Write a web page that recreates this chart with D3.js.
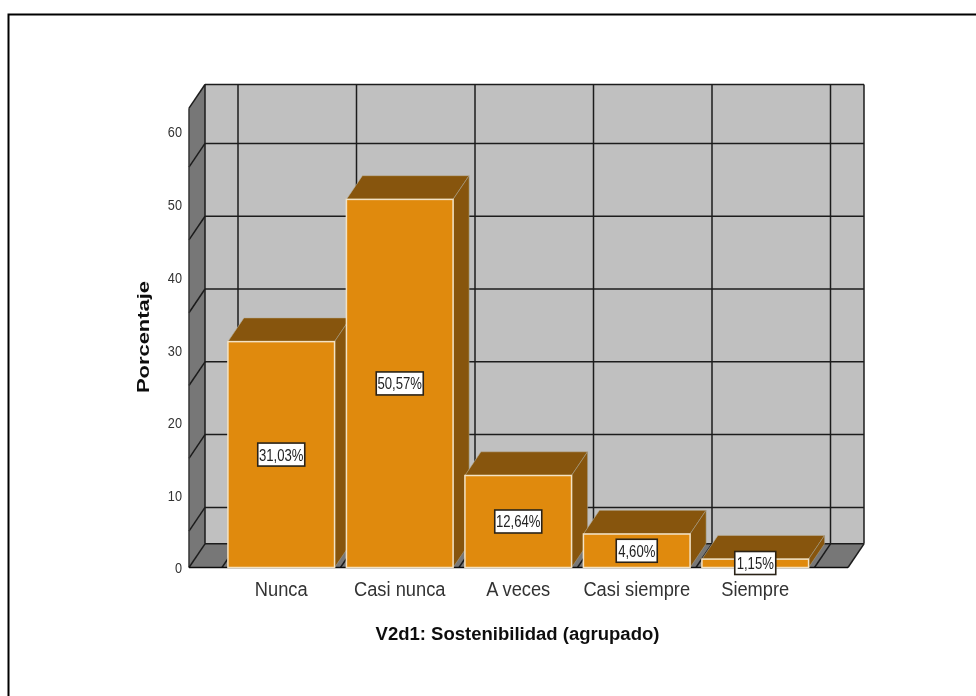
<!DOCTYPE html>
<html><head><meta charset="utf-8">
<script src="https://cdn.jsdelivr.net/npm/d3@7/dist/d3.min.js"></script>
<style>html,body{margin:0;padding:0;background:#fff}svg{display:block}text{font-family:"Liberation Sans",Arial,sans-serif}</style>
</head><body><svg id="c" width="976" height="696"></svg>
<script>
const categories=["Nunca","Casi nunca","A veces","Casi siempre","Siempre"];
const values=[31.03,50.57,12.64,4.60,1.15];
const valueLabels=["31,03%","50,57%","12,64%","4,60%","1,15%"];
const yTicks=[0,10,20,30,40,50,60];
const gridValues=[5,15,25,35,45,55];
const yMax=63.1;
const W=976,H=696,dx=16,dy=23.7;
const root=d3.select("#c");
root.append("defs").append("filter").attr("id","soft")
  .attr("filterUnits","userSpaceOnUse").attr("x",0).attr("y",0).attr("width",W).attr("height",H)
  .append("feGaussianBlur").attr("stdDeviation",0.4);
const svg=root.append("g").attr("filter","url(#soft)");
svg.append("rect").attr("width",W).attr("height",H).attr("fill","#fff");
const x=d3.scaleBand().domain(categories).range([222,814.5]).paddingInner(0.1).paddingOuter(0.05);
const y=d3.scaleLinear().domain([0,63]).range([567.5,108.9]);
const xL=189,xR=848;
const dark="#1c1c1c";
const poly=(p,f,s,sw)=>svg.append("polygon").attr("points",p.map(d=>d.join(",")).join(" ")).attr("fill",f).attr("stroke",s||"none").attr("stroke-width",sw||0);
const line=(a,b,c,w)=>svg.append("line").attr("x1",a[0]).attr("y1",a[1]).attr("x2",b[0]).attr("y2",b[1]).attr("stroke",c||dark).attr("stroke-width",w||1.5);
svg.append("path").attr("d",`M8.5,${H} V14.5 H${W}`).attr("fill","none").attr("stroke","#000").attr("stroke-width",2);
// walls
poly([[xL+dx,y(yMax)-dy],[xR+dx,y(yMax)-dy],[xR+dx,y(0)-dy],[xL+dx,y(0)-dy]],"#c0c0c0");
poly([[xL,y(yMax)],[xL+dx,y(yMax)-dy],[xL+dx,y(0)-dy],[xL,y(0)]],"#777777");
poly([[xL,y(0)],[xR,y(0)],[xR+dx,y(0)-dy],[xL+dx,y(0)-dy]],"#777777");
// gridlines
gridValues.forEach(v=>{line([xL,y(v)],[xL+dx,y(v)-dy]);line([xL+dx,y(v)-dy],[xR+dx,y(v)-dy]);});
const gap=x.step()*x.paddingInner()/2;
const bandEdges=categories.map(c=>x(c)-gap).concat([x(categories[4])+x.bandwidth()+gap]);
bandEdges.forEach(e=>{line([e+dx,y(yMax)-dy],[e+dx,y(0)-dy]);line([e+dx,y(0)-dy],[e,y(0)]);});
// frame edges
line([xL+dx,y(yMax)-dy],[xR+dx,y(yMax)-dy]);
line([xR+dx,y(yMax)-dy],[xR+dx,y(0)-dy]);
line([xL+dx,y(yMax)-dy],[xL+dx,y(0)-dy]);
line([xL,y(yMax)],[xL+dx,y(yMax)-dy]);
line([xL,y(yMax)],[xL,y(0)],"#333");
line([xL+dx,y(0)-dy],[xR+dx,y(0)-dy]);
line([xL,y(0)],[xL+dx,y(0)-dy]);
line([xR,y(0)],[xR+dx,y(0)-dy]);
line([xL,y(0)],[xR,y(0)],"#111",1.6);
// bars
categories.forEach((c,i)=>{
 const x0=x(c),w=x.bandwidth(),yt=y(values[i]),yb=y(0);
 poly([[x0,yt],[x0+w,yt],[x0+w+dx,yt-dy],[x0+dx,yt-dy]],"#875507","#b9b0a0",0.6);
 poly([[x0+w,yt],[x0+w+dx,yt-dy],[x0+w+dx,yb-dy],[x0+w,yb]],"#875507","#a39a8a",0.6);
 svg.append("rect").attr("x",x0).attr("y",yt).attr("width",w).attr("height",yb-yt).attr("fill","#e08a0e").attr("stroke","#f3e2c4").attr("stroke-width",1.5);
});
// labels
const hx=(t,cx,sx)=>t.attr("transform",`translate(${cx},0) scale(${sx},1) translate(${-cx},0)`);
categories.forEach((c,i)=>{
 const cx=x(c)+x.bandwidth()/2, v=values[i];
 const yc=i===4?563:y(v/2);
 const bw=i<3?47:41;
 svg.append("rect").attr("x",cx-bw/2).attr("y",yc-11.5).attr("width",bw).attr("height",23).attr("fill","#fff").attr("stroke","#2a2418").attr("stroke-width",1.6);
 hx(svg.append("text").attr("x",cx).attr("y",yc+6).attr("text-anchor","middle").attr("font-size",16).attr("fill","#222").text(valueLabels[i]),cx,0.82);
});
// y ticks
yTicks.forEach(v=>{
 const t=svg.append("text").attr("x",182).attr("y",y(v)+(v===0?5.5:6.5)).attr("text-anchor","end").attr("font-size",15.5).attr("fill","#333").text(v);
 hx(t,182,0.82);
});
// x labels
categories.forEach(c=>{
 const cx=x(c)+x.bandwidth()/2;
 hx(svg.append("text").attr("x",cx).attr("y",596).attr("text-anchor","middle").attr("font-size",20).attr("fill","#333").text(c),cx,0.915);
});
hx(svg.append("text").attr("x",517.5).attr("y",640).attr("text-anchor","middle").attr("font-size",19).attr("font-weight","bold").attr("fill","#111").text("V2d1: Sostenibilidad (agrupado)"),517.5,0.975);
svg.append("text").attr("transform","translate(149,337) rotate(-90) scale(1.29,1)").attr("text-anchor","middle").attr("font-size",17).attr("font-weight","bold").attr("fill","#111").text("Porcentaje");
</script></body></html>
